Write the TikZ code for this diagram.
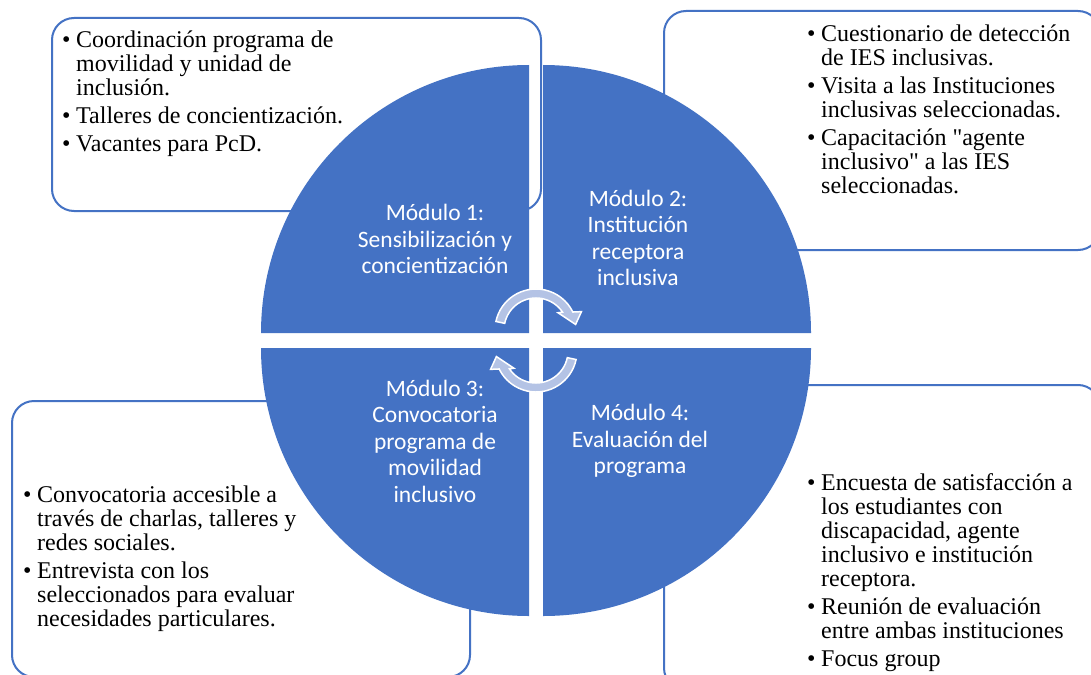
\documentclass[tikz,border=0pt]{standalone}
\usepackage{fontspec}
\setmainfont{Liberation Serif}
\newfontfamily\calibri{Carlito}
\newfontfamily\recta{Liberation Serif}
\newcommand{\comilla}{{\recta"}}
\definecolor{azul}{HTML}{4472C4}
\definecolor{flecha}{HTML}{B4C3E5}

\begin{document}
\begin{tikzpicture}[x=1pt, y=1pt,
  caja/.style={draw=azul, line width=2pt, rounded corners=22pt, fill=white},
  modulo/.style={font=\calibri\fontsize{23.5}{26.5}\selectfont, text=white, align=center},
  lista/.style={font=\fontsize{24}{24}\selectfont, inner sep=0pt, anchor=base west}]

\useasboundingbox[fill=white] (0,0) rectangle (1091,-674);

% Cajas de texto
\draw[caja] (52,-18) rectangle (541,-211);
\draw[caja] (664,-11) rectangle (1100,-250);
\draw[caja] (12,-401) rectangle (470,-677);
\draw[caja] (664,-385) rectangle (1100,-690);

% Cuadrantes del circulo
\fill[azul] (529,-333) -- (261,-333) arc[start angle=180, end angle=90, radius=268pt] -- cycle;
\fill[azul] (543,-333) -- (543,-65) arc[start angle=90, end angle=0, radius=268pt] -- cycle;
\fill[azul] (529,-348) -- (261,-348) arc[start angle=180, end angle=270, radius=268pt] -- cycle;
\fill[azul] (543,-348) -- (811,-348) arc[start angle=0, end angle=-90, radius=268pt] -- cycle;

% Modulos
\node[modulo] (m1) at (435,-239) {Módulo 1:\\Sensibilización y\\concientización};
\node[modulo] (m2) at (638,-238) {Módulo 2:\\Institución\\receptora\\inclusiva};
\node[modulo] (m3) at (435,-441) {Módulo 3:\\Convocatoria\\programa de\\movilidad\\inclusivo};
\node[modulo] (m4) at (640,-441) {Módulo 4:\\Evaluación del\\programa};

% Flechas circulares del centro
\foreach \r in {0,180}{
  \begin{scope}[rotate around={\r:(536,-340.5)}, shift={(536,-330)}]
    \filldraw[fill=flecha, draw=white, line width=1.5pt]
      (168:41pt) arc[start angle=168, end angle=26, radius=41pt]
      -- (22:49pt) -- (8:40pt) -- (38:28pt) -- (34:32pt)
      arc[start angle=34, end angle=168, radius=32pt] -- cycle;
  \end{scope}
}

% Listas
\node[lista] (t1) at (62,-48) {\begin{tabular}[t]{@{}p{14pt}@{}l@{}}
• & Coordinación programa de\\
  & movilidad y unidad de\\
  & inclusión.\\[4pt]
• & Talleres de concientización.\\[4pt]
• & Vacantes para PcD.
\end{tabular}};

\node[lista] (t2) at (807,-42) {\begin{tabular}[t]{@{}p{14pt}@{}l@{}}
• & Cuestionario de detección\\
  & de IES inclusivas.\\[4pt]
• & Visita a las Instituciones\\
  & inclusivas seleccionadas.\\[4pt]
• & Capacitación \comilla agente\\
  & inclusivo\comilla{} a las IES\\
  & seleccionadas.
\end{tabular}};

\node[lista] (t3) at (23,-502) {\begin{tabular}[t]{@{}p{14pt}@{}l@{}}
• & Convocatoria accesible a\\
  & través de charlas, talleres y\\
  & redes sociales.\\[4pt]
• & Entrevista con los\\
  & seleccionados para evaluar\\
  & necesidades particulares.
\end{tabular}};

\node[lista] (t4) at (807,-490) {\begin{tabular}[t]{@{}p{14pt}@{}l@{}}
• & Encuesta de satisfacción a\\
  & los estudiantes con\\
  & discapacidad, agente\\
  & inclusivo e institución\\
  & receptora.\\[4pt]
• & Reunión de evaluación\\
  & entre ambas instituciones\\[4pt]
• & Focus group
\end{tabular}};
\end{tikzpicture}
\end{document}
